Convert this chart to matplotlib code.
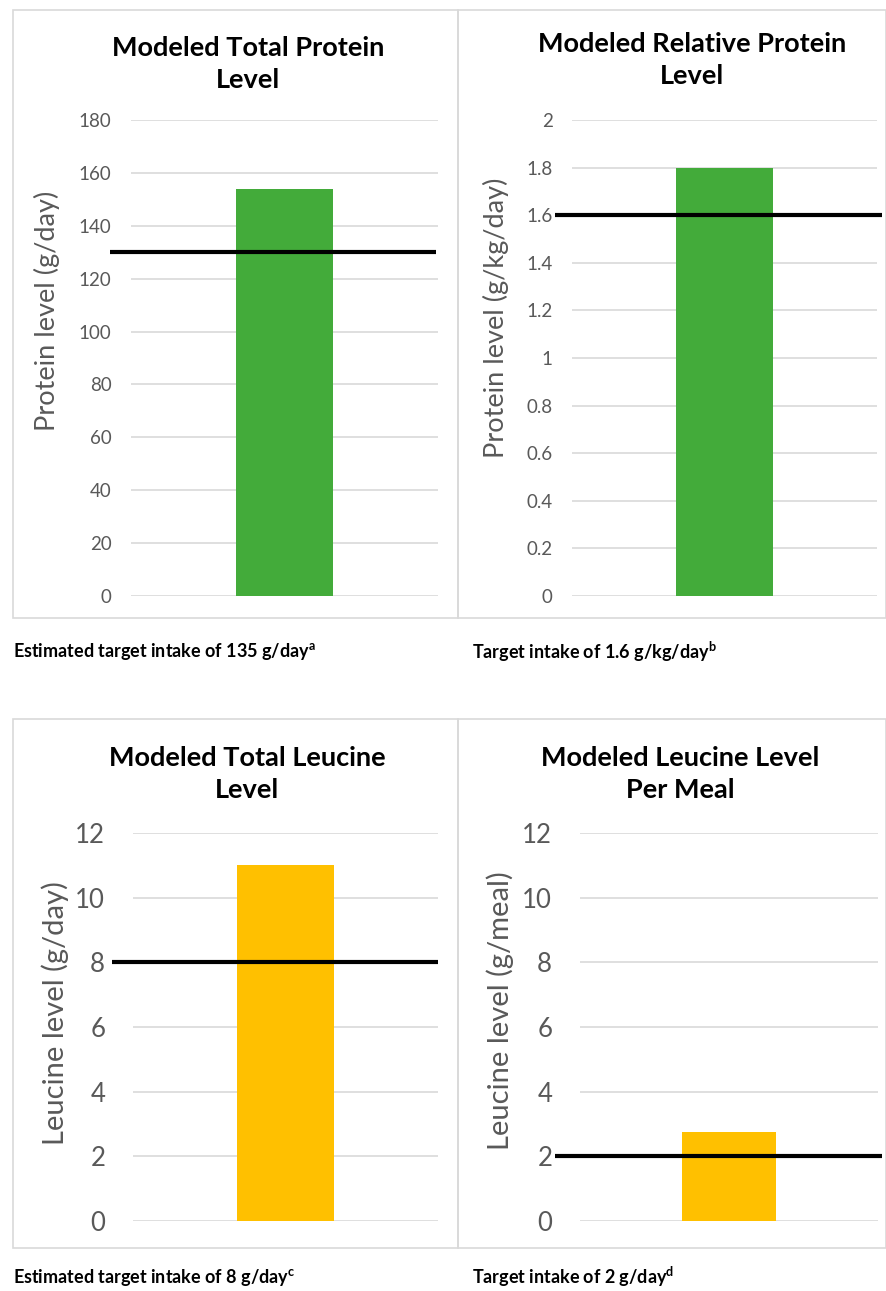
import matplotlib
matplotlib.use("Agg")
import matplotlib.pyplot as plt
from matplotlib.patches import Rectangle

plt.rcParams['font.family'] = ['Lato', 'DejaVu Sans']

W, H = 887, 1291

# ---- data ----
titles = ["Modeled Total Protein\nLevel", "Modeled Relative Protein\nLevel",
          "Modeled Total Leucine\nLevel", "Modeled Leucine Level\nPer Meal"]
ylabels = ["Protein level (g/day)", "Protein level (g/kg/day)",
           "Leucine level (g/day)", "Leucine level (g/meal)"]
bar_values = [154, 1.8, 11, 2.75]
target_values = [130, 1.6, 8, 2]
ytick_values = [[0, 20, 40, 60, 80, 100, 120, 140, 160, 180],
                [0, 0.2, 0.4, 0.6, 0.8, 1, 1.2, 1.4, 1.6, 1.8, 2],
                [0, 2, 4, 6, 8, 10, 12],
                [0, 2, 4, 6, 8, 10, 12]]
ytick_labels = [["0", "20", "40", "60", "80", "100", "120", "140", "160", "180"],
                ["0", "0.2", "0.4", "0.6", "0.8", "1", "1.2", "1.4", "1.6", "1.8", "2"],
                ["0", "2", "4", "6", "8", "10", "12"],
                ["0", "2", "4", "6", "8", "10", "12"]]
footnotes = [r"Estimated target intake of 135 g/day$^{\mathregular{a}}$",
             r"Target intake of 1.6 g/kg/day$^{\mathregular{b}}$",
             r"Estimated target intake of 8 g/day$^{\mathregular{c}}$",
             r"Target intake of 2 g/day$^{\mathregular{d}}$"]
bar_colors = ["#43AB3A", "#43AB3A", "#FFC000", "#FFC000"]

# ---- layout (pixels) ----
axes_px = [(131, 120, 438, 596), (572, 120, 877, 596),
           (133, 833, 438, 1221), (580, 833, 878, 1221)]
boxes_px = [(13, 10, 458, 618), (458, 10, 886, 618),
            (13, 719, 458, 1248), (458, 719, 886, 1248)]
line_ext = [(-0.068, 0.993), (-0.056, 1.016), (-0.069, 1.0), (-0.084, 1.013)]
title_pos = [(248, 64), (692, 60), (247, 774), (680, 774)]
ylabel_pos = [(47, 311), (496, 318), (55, 1013), (500, 1011)]
foot_pos = [(13, 652), (472, 652), (13, 1277), (472, 1277)]
tick_size = [13.5, 13.5, 18.5, 18.5]
tick_pad = [14, 14, 20, 20]
ylabel_size = [19.5, 19.5, 21, 21]

fig = plt.figure(figsize=(W / 100, H / 100), dpi=100)
fig.patch.set_facecolor("white")


def fx(x):
    return x / W


def fy(y):
    return 1 - y / H


for i in range(4):
    bx0, by0, bx1, by1 = boxes_px[i]
    fig.patches.append(Rectangle((fx(bx0), fy(by1)), fx(bx1) - fx(bx0), fy(by0) - fy(by1),
                                 transform=fig.transFigure, fill=False,
                                 edgecolor="#D9D9D9", linewidth=1.2))

    x0, y0, x1, y1 = axes_px[i]
    ax = fig.add_axes([fx(x0), fy(y1), fx(x1) - fx(x0), fy(y0) - fy(y1)])
    ax.set_xlim(0, 1)
    yt = ytick_values[i]
    ax.set_ylim(yt[0], yt[-1])
    ax.set_yticks(yt)
    ax.set_yticklabels(ytick_labels[i], fontsize=tick_size[i], color="#595959")
    ax.set_xticks([])
    ax.tick_params(axis="y", length=0, pad=tick_pad[i])
    for s in ax.spines.values():
        s.set_visible(False)
    ax.grid(axis="y", color="#D9D9D9", linewidth=1.2)
    ax.set_axisbelow(True)
    ax.bar([0.5], [bar_values[i]], width=0.315, color=bar_colors[i], zorder=2)
    ax.plot(line_ext[i], [target_values[i]] * 2, color="black", linewidth=3,
            transform=ax.get_yaxis_transform(), clip_on=False, zorder=3,
            solid_capstyle="butt")

    tx, ty = title_pos[i]
    fig.text(fx(tx), fy(ty), titles[i], ha="center", va="center", fontsize=19.5,
             fontweight="bold", linespacing=1.4, color="black")
    lx, ly = ylabel_pos[i]
    fig.text(fx(lx), fy(ly), ylabels[i], rotation=90, ha="center", va="center",
             fontsize=ylabel_size[i], color="#595959")
    nx, ny = foot_pos[i]
    fig.text(fx(nx), fy(ny), footnotes[i], ha="left", va="center", fontsize=13,
             fontweight="bold", color="black")

fig.savefig("out.png", dpi=100, facecolor="white")
